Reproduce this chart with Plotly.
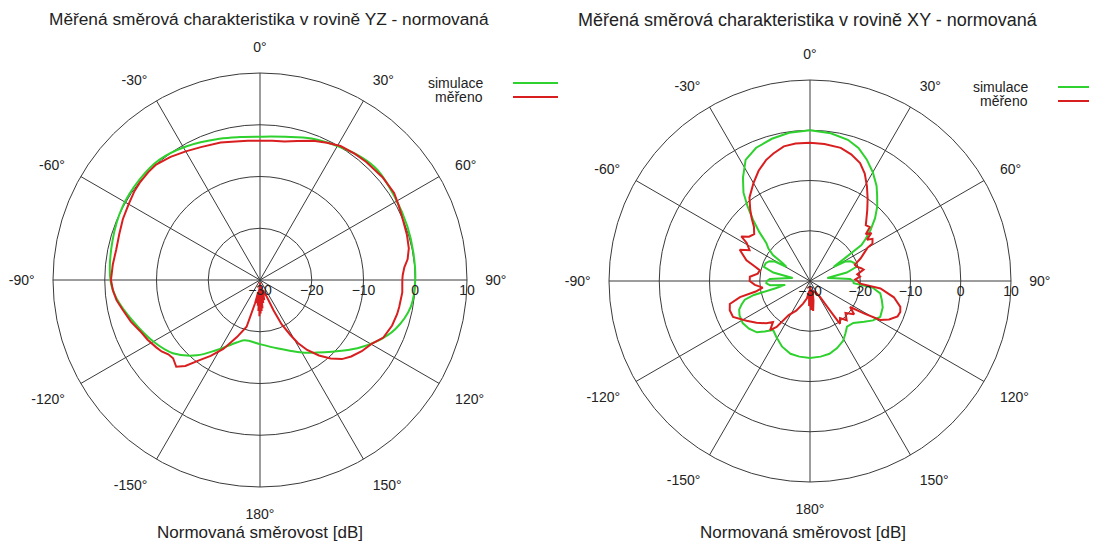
import plotly.graph_objects as go

# --- YZ plane (left) ---
yz_sim_theta = [0, 10, 20, 30, 40, 47, 58, 70, 80, 90, 100, 110, 118, 125, 135, 142, 150, 158, 166,
                180, 194, 200, 205, 212, 220, 230, 240, 252, 263, 270, 285, 298, 310, 320, 331, 344, 352, 360]
yz_sim_db = [-2.3, -1.9, -0.9, -0.1, 0.8, 1.1, 0.6, 0.3, 0.1, 0.0, -0.4, -2.2, -4.6, -7.0, -10.4, -12.2,
             -13.8, -15.3, -16.4, -17.6, -18.0, -17.2, -16.1, -14.0, -11.0, -8.0, -6.2, -4.2, -2.0, -1.1,
             -0.5, 0.1, 0.3, 0.3, -0.5, -1.6, -2.1, -2.3]

yz_meas_theta = [0, 5, 10, 15, 21, 26, 31, 37, 42, 50, 57, 62, 68, 73, 78, 82, 85, 88, 90, 95, 101, 104,
                 109, 115, 120, 125, 130, 134, 138, 142, 146, 149, 151, 154, 156, 158, 160, 165, 168, 170,
                 172, 174, 175, 176, 177, 178, 179, 180, 181, 182, 183, 184, 185, 186, 188, 189, 192, 196,
                 202, 208, 213, 217, 221, 224, 228, 231, 234, 237, 242, 247, 252, 258, 262, 266, 270, 276,
                 282, 288, 294, 300, 305, 309, 314, 318, 324, 330, 336, 344, 350, 355, 360]
yz_meas_db = [-3.1, -3.0, -2.8, -2.2, -1.2, -0.5, 0.2, 0.5, 0.7, 0.9, 0.9, 0.4, -0.1, -0.3, -0.6, -1.2,
              -2.0, -2.4, -2.5, -2.4, -2.6, -2.7, -3.0, -3.7, -5.2, -6.0, -7.0, -8.0, -9.6, -11.5, -13.7,
              -15.8, -17.8, -20.5, -23.6, -26.5, -27.0, -28.0, -26.0, -28.5, -25.5, -29.0, -24.5, -28.8,
              -24.0, -29.5, -23.5, -29.5, -23.0, -29.0, -24.0, -28.5, -25.0, -28.0, -25.5, -27.5, -25.4,
              -20.6, -18.1, -14.9, -12.5, -10.6, -8.0, -6.7, -7.4, -7.2, -6.5, -6.1, -5.4, -4.8, -3.8, -2.8,
              -2.0, -1.5, -1.2, -1.4, -1.6, -1.4, -1.0, -0.7, -0.3, -0.1, 0.0, 0.0, -0.6, -1.3, -1.9, -2.35,
              -2.8, -3.0, -3.1]

# --- XY plane (right) ---
xy_sim_theta = [0, 8, 15, 20, 25, 30, 35, 38, 42, 46, 50, 53, 55, 57, 59, 61, 64, 68, 73, 77, 80, 84, 87,
                90, 93, 96, 100, 105, 110, 117, 122, 127, 134, 141, 146, 151, 158, 165, 172, 180, 188, 195,
                203, 211, 217, 222, 226, 232, 238, 244, 248, 251, 254, 256, 258, 261, 264, 267, 270, 273,
                276, 280, 283, 287, 292, 296, 299, 301, 303, 305, 308, 311, 314, 317, 320, 323, 327, 332,
                338, 345, 352, 360]
xy_sim_db = [0.0, -0.3, -0.9, -1.8, -3.3, -5.0, -6.9, -8.3, -10.0, -12.0, -14.3, -16.2, -17.5, -22.0,
             -24.5, -22.0, -21.0, -20.5, -20.3, -22.5, -26.5, -25.0, -22.0, -21.4, -21.3, -17.5, -15.8,
             -15.2, -14.6, -14.3, -15.2, -16.5, -18.0, -18.3, -17.4, -16.4, -15.6, -15.0, -14.8, -14.7,
             -14.8, -15.0, -15.8, -17.0, -17.8, -16.5, -15.3, -14.6, -14.2, -14.4, -14.8, -15.6, -16.5,
             -18.5, -23.0, -25.0, -22.0, -21.3, -21.4, -22.0, -25.0, -26.5, -22.5, -20.4, -20.5, -21.0,
             -22.0, -24.5, -23.6, -21.0, -19.5, -18.5, -16.0, -13.4, -10.7, -8.0, -5.5, -2.7, -1.4, -0.7,
             -0.2, 0.0]

xy_meas_theta = [0, 6, 13, 18, 23, 27, 31, 35, 39, 42, 45, 48, 50, 52, 54, 56, 59, 60, 63, 66, 70, 73,
                 76, 78, 82, 85, 88, 90, 93, 96, 101, 106, 109, 112, 116, 119, 121, 123, 127, 132, 137,
                 141, 145, 146, 148, 155, 165, 170, 174, 176, 178, 180, 182, 185, 190, 197, 205, 212, 216,
                 219, 222, 226, 232, 238, 245, 250, 254, 257, 259, 262, 266, 270, 274, 278, 282, 285, 288,
                 291, 294, 297, 301, 303, 306, 310, 314, 317, 320, 324, 330, 335, 340, 344, 349, 354, 360]
xy_meas_db = [-2.5, -2.6, -2.8, -3.5, -4.5, -6.0, -8.0, -10.0, -11.9, -13.2, -14.3, -14.0, -15.5, -14.5,
              -16.0, -15.0, -15.5, -16.8, -18.0, -19.0, -20.5, -20.3, -19.5, -19.1, -20.5, -20.0, -21.0,
              -20.5, -20.0, -15.9, -13.0, -11.3, -11.0, -11.2, -12.5, -14.0, -17.5, -20.5, -19.0, -20.5,
              -19.3, -20.5, -19.6, -23.0, -26.3, -27.5, -28.0, -26.0, -24.0, -28.5, -24.2, -29.0, -25.0,
              -28.0, -26.5, -25.3, -23.5, -22.0, -18.7, -17.4, -19.0, -17.9, -16.5, -15.1, -13.1, -13.0,
              -13.4, -15.7, -19.0, -20.5, -19.0, -18.0, -18.0, -19.5, -19.8, -18.5, -16.7, -15.8, -14.7,
              -16.5, -15.3, -13.7, -15.0, -15.5, -14.5, -13.0, -11.5, -9.5, -7.5, -5.8, -4.4, -3.6, -2.7,
              -2.5, -2.5]

angle_ticks = [0, 30, 60, 90, 120, 150, 180, 210, 240, 270, 300, 330]
angle_labels = ["0°", "30°", "60°", "90°", "120°", "150°", "180°", "-150°", "-120°", "-90°", "-60°", "-30°"]
radial_ticks = [-30, -20, -10, 0, 10]

GREEN = "#2ed12e"
RED = "#d81e1e"
GRID = "#3a3a3a"
FONT = "Arial, Liberation Sans, sans-serif"

W, H = 1097, 545
OFF = 8  # page body margin


def px(x):
    return (x - OFF) / W


def py(y):
    return 1 - (y - OFF) / H


fig = go.Figure()

fig.add_trace(go.Scatterpolar(theta=yz_sim_theta, r=yz_sim_db, mode="lines", name="simulace",
                              line=dict(color=GREEN, width=2, shape="spline"), subplot="polar"))
fig.add_trace(go.Scatterpolar(theta=yz_meas_theta, r=yz_meas_db, mode="lines", name="měřeno",
                              line=dict(color=RED, width=2), subplot="polar"))
fig.add_trace(go.Scatterpolar(theta=xy_sim_theta, r=xy_sim_db, mode="lines", name="simulace",
                              line=dict(color=GREEN, width=2), subplot="polar2"))
fig.add_trace(go.Scatterpolar(theta=xy_meas_theta, r=xy_meas_db, mode="lines", name="měřeno",
                              line=dict(color=RED, width=2), subplot="polar2"))


def polar_layout(cx, cy, rad):
    return dict(
        domain=dict(x=[px(cx - rad), px(cx + rad)], y=[py(cy + rad), py(cy - rad)]),
        bgcolor="white",
        angularaxis=dict(direction="clockwise", rotation=90, tickmode="array",
                         tickvals=angle_ticks, ticktext=angle_labels,
                         showline=True, linecolor=GRID, linewidth=1,
                         gridcolor=GRID, gridwidth=1,
                         ticks="outside", ticklen=15, tickcolor="rgba(0,0,0,0)",
                         tickfont=dict(family=FONT, size=14, color="#222")),
        radialaxis=dict(range=[-30, 10], tickmode="array", tickvals=radial_ticks,
                        angle=0, side="clockwise", showline=False,
                        gridcolor=GRID, gridwidth=1, ticks="",
                        tickfont=dict(family=FONT, size=14, color="#222")),
    )


annotations = []
shapes = []


def add_texts(title, tx, ty, tsize, foot_x, leg_x, leg_y):
    annotations.append(dict(text=title, x=px(tx), y=py(ty), xref="paper", yref="paper",
                            xanchor="center", yanchor="middle", showarrow=False,
                            font=dict(family=FONT, size=tsize, color="#222")))
    annotations.append(dict(text="Normovaná směrovost [dB]", x=px(foot_x), y=py(532),
                            xref="paper", yref="paper", xanchor="center", yanchor="middle",
                            showarrow=False, font=dict(family=FONT, size=17, color="#222")))
    for i, (lab, col) in enumerate([("simulace", GREEN), ("měřeno", RED)]):
        yy = leg_y + 14 * i
        annotations.append(dict(text=lab, x=px(leg_x), y=py(yy), xref="paper", yref="paper",
                                xanchor="right", yanchor="middle", showarrow=False,
                                font=dict(family=FONT, size=14, color="#222")))
        shapes.append(dict(type="line", xref="paper", yref="paper",
                           x0=px(leg_x + 28), x1=px(leg_x + 73),
                           y0=py(yy), y1=py(yy), line=dict(color=col, width=2)))


add_texts("Měřená směrová charakteristika v rovině YZ - normovaná", 269, 19, 17.3, 260, 485, 83)
add_texts("Měřená směrová charakteristika v rovině XY - normovaná", 808, 20, 18, 803, 1030, 87)

fig.update_layout(
    width=W, height=H,
    margin=dict(l=0, r=0, t=0, b=0),
    paper_bgcolor="white",
    polar=polar_layout(260, 280, 207),
    polar2=polar_layout(810, 281, 201),
    annotations=annotations,
    shapes=shapes,
    showlegend=False,
)

fig.write_html("out.html")
